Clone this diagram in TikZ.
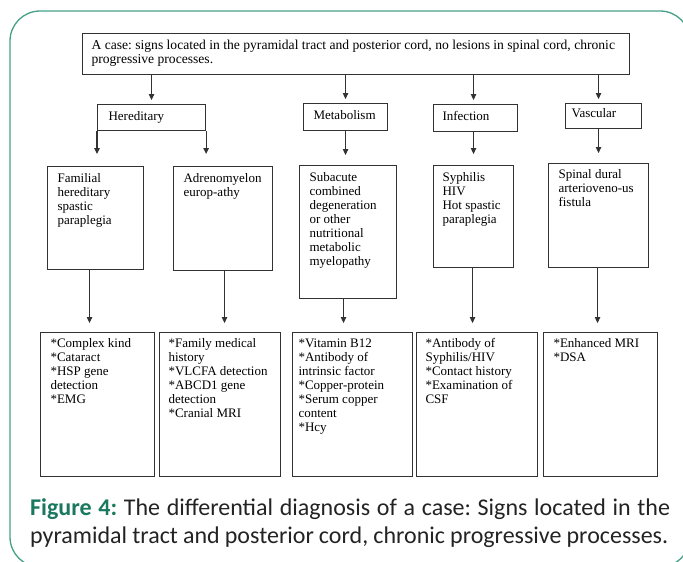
\documentclass[tikz,border=0pt]{standalone}
\usepackage{fontspec}
\setmainfont{Liberation Serif}
\newfontfamily\capfont{Carlito}
\usetikzlibrary{arrows.meta,calc}
\definecolor{frame}{RGB}{70,160,135}
\definecolor{figteal}{RGB}{25,120,95}
\definecolor{ink}{RGB}{50,50,50}
\definecolor{captxt}{RGB}{35,35,35}
\frenchspacing
% W, H, left pad, first baseline, text
\newcommand\bxt[5]{\parbox[c][#2pt][t]{#1pt}{\raggedright\leftskip=#3pt\relax\rule{0pt}{#4pt}\ignorespaces#5}}
\begin{document}
\begin{tikzpicture}[x=1pt,y=-1pt,
  bx/.style={draw=ink,line width=1.1pt,inner sep=0pt,anchor=north west,text=black,font=\fontsize{13}{14}\selectfont},
  arr/.style={draw=ink,line width=1.1pt,-{Triangle[width=5.5pt,length=6pt]}},
  captext/.style={anchor=base west,inner sep=0pt,text=captxt,font=\capfont\fontsize{24}{28}\selectfont\frenchspacing}]
\useasboundingbox (0,0) rectangle (683,562);
\draw[frame,line width=1.3pt,rounded corners=30pt] (10,11) rectangle (690,567);

% top box
\node[bx,font=\fontsize{13.6}{14}\selectfont\frenchspacing] (top) at (82,33) {\bxt{547}{41}{9}{16}{A case: signs located in the pyramidal tract and posterior cord, no lesions in spinal cord, chronic\\progressive processes.}};

% first row
\node[bx] (her) at (97,104) {\bxt{108}{26}{11}{16}{Hereditary}};
\node[bx] (met) at (303,103) {\bxt{84}{27}{10}{16}{Metabolism}};
\node[bx] (inf) at (433,104) {\bxt{84}{27}{9}{16}{Infection}};
\node[bx] (vas) at (565,103) {\bxt{76}{25}{6}{14}{Vascular}};

% second row
\node[bx] (fam) at (47,166) {\bxt{96}{103}{10}{16}{Familial\\hereditary\\spastic\\paraplegia}};
\node[bx] (adr) at (173,166) {\bxt{99}{104}{10}{16}{Adrenomyelon\\europ-athy}};
\node[bx] (sub) at (299,165) {\bxt{97}{133}{10}{16}{Subacute\\combined\\degeneration\\or other\\nutritional\\metabolic\\myelopathy}};
\node[bx] (syp) at (433,165) {\bxt{80}{102}{9}{16}{Syphilis\\HIV\\Hot spastic\\paraplegia}};
\node[bx] (spi) at (548,163) {\bxt{100}{104}{10}{15}{Spinal dural\\arterioveno-us\\fistula}};

% third row
\node[bx] (b1) at (40,332) {\bxt{114}{144}{10}{15}{*Complex kind\\{}*Cataract\\{}*HSP gene\\detection\\{}*EMG}};
\node[bx] (b2) at (159,332) {\bxt{121}{144}{9}{15}{*Family medical\\history\\{}*VLCFA detection\\{}*ABCD1 gene\\detection\\{}*Cranial MRI}};
\node[bx] (b3) at (292,332) {\bxt{120}{144}{6}{15}{*Vitamin B12\\{}*Antibody of\\intrinsic factor\\{}*Copper-protein\\{}*Serum copper\\content\\{}*Hcy}};
\node[bx] (b4) at (416,332) {\bxt{121}{144}{9}{15}{*Antibody of\\Syphilis/HIV\\{}*Contact history\\{}*Examination of\\CSF}};
\node[bx] (b5) at (543,332) {\bxt{114}{144}{10}{15}{*Enhanced MRI\\{}*DSA}};

% connectors top -> first row
\draw[arr,shorten >=4pt] (top.south -| her.north) -- (her.north);
\draw[arr,shorten >=4pt] (top.south -| met.north) -- (met.north);
\draw[arr,shorten >=4pt] ([xshift=-2pt]inf.north |- top.south) -- ([xshift=-2pt]inf.north);
\draw[arr,shorten >=4pt] ([xshift=-5pt]vas.north |- top.south) -- ([xshift=-5pt]vas.north);

% first row -> second row
\draw[arr,shorten >=12pt] (her.south west) -- (her.south west |- fam.north);
\draw[arr,shorten >=12pt] (her.south east) -- (her.south east |- adr.north);
\draw[arr,shorten >=10pt] (met.south) -- (met.south |- sub.north);
\draw[arr,shorten >=11pt] ([xshift=-2pt]inf.south) -- ([xshift=-2pt]inf.south |- syp.north);
\draw[arr,shorten >=10pt] ([xshift=-5pt]vas.south) -- ([xshift=-5pt]vas.south |- spi.north);

% second row -> third row
\draw[arr,shorten >=9pt] ([xshift=-6pt]fam.south) -- ([xshift=-6pt]fam.south |- b1.north);
\draw[arr,shorten >=9pt] ([xshift=1.5pt]adr.south) -- ([xshift=1.5pt]adr.south |- b2.north);
\draw[arr,shorten >=9pt] ([xshift=-4.5pt]sub.south) -- ([xshift=-4.5pt]sub.south |- b3.north);
\draw[arr,shorten >=9pt] ([xshift=-1pt]syp.south) -- ([xshift=-1pt]syp.south |- b4.north);
\draw[arr,shorten >=9pt] ([xshift=-1pt]spi.south) -- ([xshift=-1pt]spi.south |- b5.north);

% caption
\node[captext] (cap1) at (30,515) {\makebox[640pt][s]{\textcolor{figteal}{\textbf{Figure 4:}} The differential diagnosis of a case: Signs located in the}};
\node[captext] (cap2) at (30,543) {\makebox[638pt][s]{pyramidal tract and posterior cord, chronic progressive processes.}};
\end{tikzpicture}
\end{document}
